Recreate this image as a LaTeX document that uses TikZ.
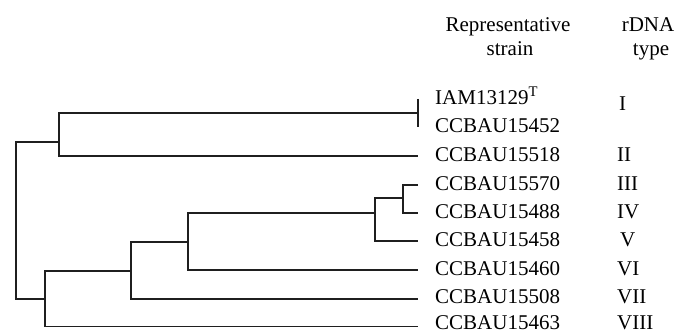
\documentclass[tikz,border=0pt]{standalone}
\usepackage{fontspec}
\setmainfont{Liberation Serif}
\begin{document}
\begin{tikzpicture}[x=1pt,y=-1pt,
  branch/.style={line width=1.3pt,color=black!88},
  lbl/.style={anchor=base west,inner sep=0pt,font=\fontsize{21}{25}\selectfont},
  hdr/.style={anchor=base,inner sep=0pt,font=\fontsize{21}{25}\selectfont}]
\useasboundingbox (0,0) rectangle (688,334);
% headers
\node[hdr] (h1) at (508,32) {Representative};
\node[hdr] (h2) at (510,56) {strain};
\node[hdr] (h3) at (648,32) {rDNA};
\node[hdr] (h4) at (651,56) {type};
% strain labels
\node[lbl] (t1) at (435,104.5) {IAM13129\textsuperscript{T}};
\node[lbl] (t2) at (435,133) {CCBAU15452};
\node[lbl] (t3) at (435,161.5) {CCBAU15518};
\node[lbl] (t4) at (435,190) {CCBAU15570};
\node[lbl] (t5) at (435,218.5) {CCBAU15488};
\node[lbl] (t6) at (435,246.5) {CCBAU15458};
\node[lbl] (t7) at (435,275.5) {CCBAU15460};
\node[lbl] (t8) at (435,303.5) {CCBAU15508};
\node[lbl] (t9) at (435,329.3) {CCBAU15463};
% types
\node[lbl] (r1) at (619,111) {I};
\node[lbl] (r2) at (617,161.5) {II};
\node[lbl] (r3) at (617,190) {III};
\node[lbl] (r4) at (617,218.5) {IV};
\node[lbl] (r5) at (620,246.5) {V};
\node[lbl] (r6) at (617,275.5) {VI};
\node[lbl] (r7) at (617,303.5) {VII};
\node[lbl] (r8) at (617,329.3) {VIII};
% leaf ends
\coordinate (bt) at (418,99);
\coordinate (bb) at (418,127);
\coordinate (lI) at (418,113);
\coordinate (lII) at (418,156);
\coordinate (lIII) at (418,185);
\coordinate (lIV) at (418,213);
\coordinate (lV) at (418,241);
\coordinate (lVI) at (418,270);
\coordinate (lVII) at (418,299);
\coordinate (lVIII) at (418,326.5);
% internal nodes
\coordinate (nA) at (59,142);
\coordinate (nB) at (45,299);
\coordinate (nC) at (131,271);
\coordinate (nD) at (188,242);
\coordinate (nE) at (375,213);
\coordinate (nF) at (403,198);
\coordinate (rt) at (16,142);
\coordinate (rb) at (16,299);
% tree
\draw[branch] (bt) -- (bb);
\draw[branch] (lI) -| (nA) |- (lII);
\draw[branch] (nA) -- (rt) -- (rb) -- (nB);
\draw[branch] (nC) -| (nB) |- (lVIII);
\draw[branch] (nD) -| (nC) |- (lVII);
\draw[branch] (nE) -| (nD) |- (lVI);
\draw[branch] (nF) -| (nE) |- (lV);
\draw[branch] (lIII) -| (nF) |- (lIV);
\end{tikzpicture}
\end{document}
